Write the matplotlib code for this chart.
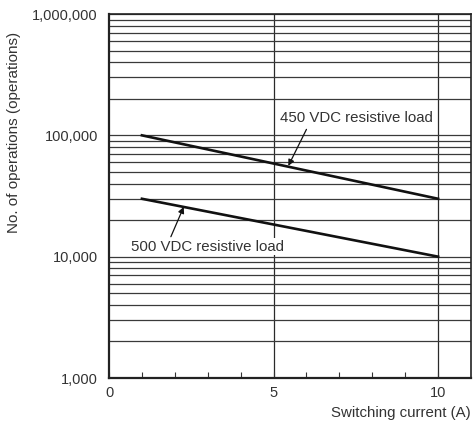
import matplotlib
matplotlib.use("Agg")
import matplotlib.pyplot as plt
from matplotlib.ticker import LogLocator, FixedLocator, NullFormatter, FuncFormatter

plt.rcParams['font.family'] = ['Liberation Sans', 'DejaVu Sans']

# Data
current_a = [1, 10]
ops_450vdc = [100000, 30000]
ops_500vdc = [30000, 10000]
x_tick_labels = [0, 5, 10]
y_tick_values = [1000, 10000, 100000, 1000000]
label_450 = "450 VDC resistive load"
label_500 = "500 VDC resistive load"

txt = '#333333'
fig = plt.figure(figsize=(4.73, 4.25), dpi=100)
ax = fig.add_axes([109/473, 1-378/425, (471-109)/473, (378-14)/425])

ax.set_yscale('log')
ax.set_xlim(0, 11)
ax.set_ylim(1000, 1000000)

# grid
ax.yaxis.set_major_locator(FixedLocator(y_tick_values))
ax.yaxis.set_minor_locator(LogLocator(base=10, subs=range(2, 10)))
ax.yaxis.set_minor_formatter(NullFormatter())
ax.yaxis.set_major_formatter(FuncFormatter(lambda v, p: f"{int(round(v)):,}"))
ax.grid(True, axis='y', which='both', color='#3a3a3a', linewidth=0.9)
for xv in x_tick_labels[1:]:
    ax.axvline(xv, color='#2a2a2a', linewidth=0.9, zorder=1)

ax.set_xticks(x_tick_labels)
ax.set_xticks(range(0, 11), minor=True)
ax.tick_params(axis='x', which='both', direction='in', length=4, width=0.8,
               color='#333333', labelsize=10.5, labelcolor=txt, pad=6)
ax.tick_params(axis='y', which='both', length=0, labelsize=10.5, labelcolor=txt, pad=8)

for s in ax.spines.values():
    s.set_color('#222222')
    s.set_linewidth(1.2)
ax.spines['left'].set_linewidth(1.6)
ax.spines['bottom'].set_linewidth(1.6)

ax.plot(current_a, ops_450vdc, color='#111111', linewidth=1.9, zorder=3)
ax.plot(current_a, ops_500vdc, color='#111111', linewidth=1.9, zorder=3)

ax.text(5.2, 140000, label_450, fontsize=10.8, color=txt, va='center', ha='left',
        bbox=dict(facecolor='white', edgecolor='none', pad=1), zorder=4)
ax.annotate('', xy=(5.45, 56000), xytext=(6.0, 112000),
            arrowprops=dict(arrowstyle='-|>', color='#111111', lw=0.9,
                            mutation_scale=9, shrinkA=0, shrinkB=0), zorder=5)
ax.text(0.68, 12100, label_500, fontsize=10.8, color=txt, va='center', ha='left',
        bbox=dict(facecolor='white', edgecolor='none', pad=1), zorder=4)
ax.annotate('', xy=(2.27, 25700), xytext=(1.88, 14600),
            arrowprops=dict(arrowstyle='-|>', color='#111111', lw=0.9,
                            mutation_scale=9, shrinkA=0, shrinkB=0), zorder=5)

fig.text(471/473, 1-413/425, "Switching current (A)", fontsize=10.8, color=txt,
         ha='right', va='center')
fig.text(14/473, 1-132/425, "No. of operations (operations)", fontsize=11, color=txt,
         ha='center', va='center', rotation=90)

fig.savefig('out.png', dpi=100)
